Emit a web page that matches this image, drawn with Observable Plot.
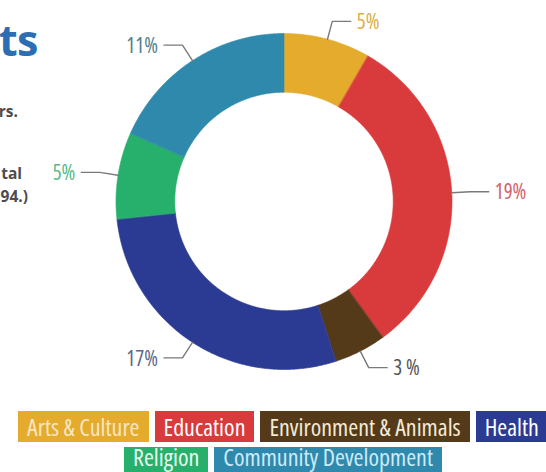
<!DOCTYPE html>
<html>
<head>
<meta charset="utf-8">
<script src="https://cdn.jsdelivr.net/npm/d3@7"></script>
<script src="https://cdn.jsdelivr.net/npm/@observablehq/plot@0.6"></script>
<style>
  html, body { margin: 0; padding: 0; background: #fff; }
  body { width: 546px; height: 472px; overflow: hidden; position: relative; }
  #chart { position: absolute; left: 0; top: 0; }
  .frag { position: absolute; white-space: nowrap; text-align: right; font-family: "Open Sans", "Noto Sans", sans-serif; font-weight: 700; }
  .title { color: #2c6db3; font-size: 43px; line-height: 1; letter-spacing: -0.5px; }
  .sub { color: #4d4d4d; font-size: 15.5px; line-height: 1; }
  .legend { position: absolute; left: 0; width: 566px; display: flex; justify-content: center; gap: 6px; }
  .legend div { height: 31px; line-height: 31px; padding: 0 9px; white-space: nowrap;
    font-family: "Open Sans", "Noto Sans", sans-serif; font-stretch: 87%; font-size: 24px; }
  .legend.second div { height: 25px; line-height: 19px; }
</style>
</head>
<body>
<div id="chart"></div>
<div id="frags"></div>
<div id="legend"></div>
<script>
// ---- data ----
const categories = ["Arts & Culture", "Education", "Environment & Animals", "Health", "Religion", "Community Development"];
const shares = [5, 19, 3, 17, 5, 11];
const shareLabels = ["5%", "19%", "3 %", "17%", "5%", "11%"];
const titleFragment = "ts";
const textFragments = ["rs.", "tal", "94.)"];

// ---- styles ----
const colors = ["#e4ab2d", "#d93a3c", "#553a19", "#2b3a92", "#27b06c", "#2f89ac"];
const labelColors = ["#dcae45", "#d4606c", "#555555", "#5b6788", "#58b98a", "#527f8c"];
const legendText = ["#f7e6c2", "#ffffff", "#f3ead8", "#ffffff", "#e6fbef", "#cdebf7"];

// ---- geometry from data ----
const total = d3.sum(shares);
let acc = 0;
const slices = categories.map((c, i) => {
  const a0 = acc / total * 2 * Math.PI;
  acc += shares[i];
  const a1 = acc / total * 2 * Math.PI;
  return {category: c, label: shareLabels[i], a0, a1, mid: (a0 + a1) / 2, i};
});
const R = 1, r0 = 0.65;
const ring = slices.flatMap(s => {
  const n = Math.max(2, Math.ceil((s.a1 - s.a0) / (Math.PI / 360)));
  const angles = d3.range(n + 1).map(k => s.a0 + (s.a1 - s.a0) * k / n);
  const outer = angles.map(a => ({category: s.category, x: R * Math.sin(a), y: R * Math.cos(a)}));
  const inner = angles.slice().reverse().map(a => ({category: s.category, x: r0 * Math.sin(a), y: r0 * Math.cos(a)}));
  return outer.concat(inner);
});
const ext = 0.11, run = 0.11;
const leaders = [];
const labelPts = slices.map(s => {
  const side = Math.sin(s.mid) >= 0 ? 1 : -1;
  const p0 = {x: R * Math.sin(s.mid), y: R * Math.cos(s.mid)};
  const p1 = {x: (R + ext) * Math.sin(s.mid), y: (R + ext) * Math.cos(s.mid)};
  const p2 = {x: p1.x + side * run, y: p1.y};
  [p0, p1, p2].forEach(p => leaders.push({...p, category: s.category}));
  return {...p2, label: s.label, side, i: s.i};
});

const unit = 168;
const W = 546, H = 405, cx = 283.5, cy = 201;

const marks = [
  Plot.line(ring, {x: "x", y: "y", z: "category", fill: "category", stroke: "category", strokeWidth: 0.6, curve: "linear-closed"}),
  Plot.line(leaders, {x: "x", y: "y", z: "category", stroke: "#7a7a7a", strokeWidth: 1.4, strokeLinejoin: "miter"})
];
labelPts.forEach(p => {
  marks.push(Plot.text([p], {
    x: "x", y: "y", text: "label",
    textAnchor: p.side > 0 ? "start" : "end",
    dx: p.side * 6, dy: 1,
    fill: labelColors[p.i],
    fontSize: 21,
    fontFamily: "Open Sans, Noto Sans, sans-serif"
  }));
});

const chart = Plot.plot({
  width: W, height: H, margin: 0,
  x: {domain: [-cx / unit, (W - cx) / unit], axis: null},
  y: {domain: [-(H - cy) / unit, cy / unit], axis: null},
  color: {domain: categories, range: colors},
  marks
});
chart.querySelectorAll("text").forEach(t => { t.style.fontStretch = "80%"; });
document.getElementById("chart").appendChild(chart);

// ---- cropped text fragments on the left ----
const frags = document.getElementById("frags");
function addFrag(text, cls, rightEdge, top) {
  const d = document.createElement("div");
  d.className = "frag " + cls;
  d.textContent = text;
  d.style.right = (W - rightEdge) + "px";
  d.style.top = top + "px";
  frags.appendChild(d);
}
addFrag(titleFragment, "title", 38, 18);
addFrag(textFragments[0], "sub", 18, 104);
addFrag(textFragments[1], "sub", 22, 166);
addFrag(textFragments[2], "sub", 28, 189);

// ---- legend ----
const legend = document.getElementById("legend");
[[0, 4, 411, ""], [4, 6, 447, " second"]].forEach(([a, b, top, cls]) => {
  const row = document.createElement("div");
  row.className = "legend" + cls;
  row.style.top = top + "px";
  for (let i = a; i < b; i++) {
    const item = document.createElement("div");
    item.textContent = categories[i];
    item.style.background = colors[i];
    item.style.color = legendText[i];
    row.appendChild(item);
  }
  legend.appendChild(row);
});
</script>
</body>
</html>
